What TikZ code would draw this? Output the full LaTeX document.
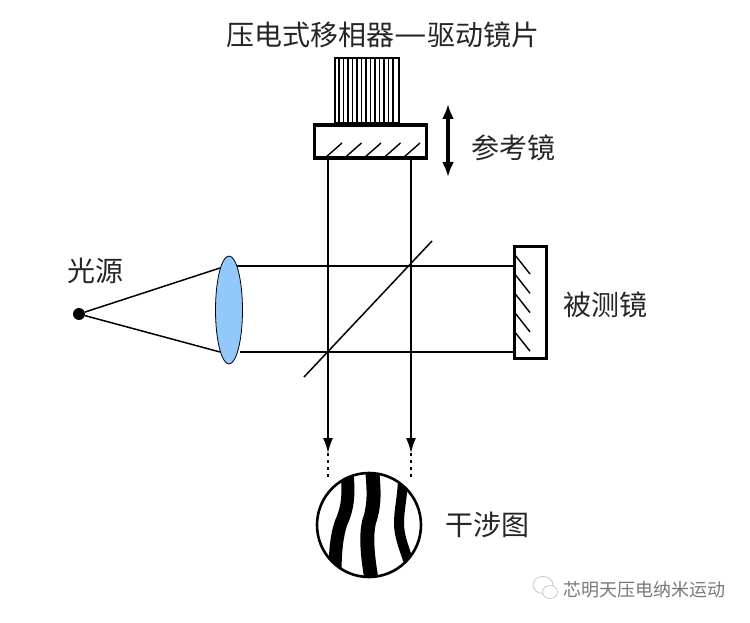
\documentclass[tikz,border=0pt]{standalone}
\usepackage{fontspec}
\usepackage{graphicx}
\usepackage{xcolor}
\newfontfamily\cjk{Noto Sans CJK SC}
\usetikzlibrary{arrows.meta,shapes.geometric}
\definecolor{lensblue}{RGB}{146,200,250}
\definecolor{markgray}{RGB}{120,120,120}
\tikzset{
    label/.style={font=\cjk\fontsize{28}{28}\selectfont,text=black!85,inner sep=0pt},
    mirror/.style={draw,line width=3.4pt,fill=white,inner sep=0pt},
    hatch/.style={line width=1.4pt},
    beam/.style={line width=1.5pt},
    ray/.style={beam,-{Latex[length=15pt,width=10pt]}},
    fringe/.style={line width=13pt,line cap=butt},
}
\begin{document}
\begin{tikzpicture}[x=1pt,y=-1pt]
    \useasboundingbox (0,0) rectangle (750,623);
    \node[label] (title) at (383,35) {压电式移相器\scalebox{1.3}[1.2]{—}驱动镜片};
    \node[label] (reflabel) at (513.5,148) {参考镜};
    \node[label] (srclabel) at (95.5,271) {光源};
    \node[label] (testlabel) at (605.5,305) {被测镜};
    \node[label] (figlabel) at (487,525) {干涉图};
    \node[font=\cjk\fontsize{18}{18}\selectfont,text=markgray,inner sep=0pt] (mark) at (644.5,590) {芯明天压电纳米运动};

    \node[draw,line width=2.4pt,minimum width=64pt,minimum height=65pt,inner sep=0pt] (piezo) at (367,90.5) {};
    \foreach \x in {339,343.5,...,396}
        \draw[line width=1.4pt] (\x,59) -- (\x,123);

    \coordinate (ra) at (328,159);
    \coordinate (rb) at (411,159);
    \coordinate (ea) at (328,453);
    \coordinate (eb) at (411,453);
    \coordinate (da) at (328,480);
    \coordinate (db) at (411,480);
    \coordinate (ha) at (236,266);
    \coordinate (hb) at (240,352);
    \coordinate (ma) at (514,266);
    \coordinate (mb) at (514,352);
    \coordinate (la) at (220,268);
    \coordinate (lb) at (220,352);
    \coordinate (bs1) at (304,377);
    \coordinate (bs2) at (432,241);
    \coordinate (ud1) at (448,104);
    \coordinate (ud2) at (448,177);

    \node[mirror,minimum width=112pt,minimum height=33pt] (refmirror) at (370.5,141.5) {};
    \foreach \x in {325,344.5,...,404}
        \draw[hatch] (\x,158) -- (\x+17,143);
    \node[mirror,minimum width=32pt,minimum height=112pt] (testmirror) at (530.5,302.5) {};
    \foreach \y in {255,274.3,...,333}
        \draw[hatch] (515,\y) -- (530,\y+19);

    \draw[ray] (ra) -- (ea);
    \draw[ray] (rb) -- (eb);
    \draw[beam,dash pattern=on 3pt off 4pt] (ea) -- (da);
    \draw[beam,dash pattern=on 3pt off 4pt] (eb) -- (db);
    \draw[beam] (ha) -- (ma);
    \draw[beam] (hb) -- (mb);
    \draw[beam] (bs1) -- (bs2);
    \draw[line width=3.4pt,{Latex[length=15pt,width=12pt]}-{Latex[length=15pt,width=12pt]}] (ud1) -- (ud2);

    \node[circle,fill=black,minimum size=12pt,inner sep=0pt] (src) at (79,314) {};
    \draw[beam] (src) -- (la);
    \draw[beam] (src) -- (lb);
    \node[ellipse,draw,line width=0.8pt,fill=lensblue,minimum width=27pt,minimum height=108pt,inner sep=0pt] (lens) at (229,310) {};

    \begin{scope}
        \clip (369,525) circle (52pt);
        \draw[fringe] (347,472) .. controls (349,495) and (348,508) .. (341,523) .. controls (337,535) and (335,550) .. (335,575);
        \draw[fringe,line width=14pt] (372,468) .. controls (374,490) and (375,505) .. (369,522) .. controls (366,535) and (367,555) .. (372,582);
        \draw[fringe,line width=10pt] (403,480) .. controls (402,500) and (399,510) .. (399,523) .. controls (399,535) and (403,545) .. (408,560);
    \end{scope}
    \node[circle,draw,line width=2.6pt,minimum size=104pt,inner sep=0pt] (fringes) at (369,525) {};

    \draw[markgray!45,line width=0.7pt] (543,585) ellipse (10pt and 8.5pt);
    \draw[markgray!45,line width=0.7pt,fill=white] (550,592) ellipse (7.5pt and 6.5pt);
\end{tikzpicture}
\end{document}
